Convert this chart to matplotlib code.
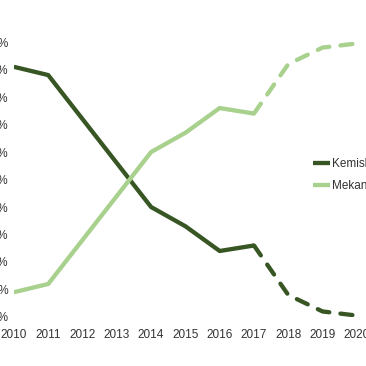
import matplotlib.pyplot as plt

years = [2010, 2011, 2012, 2013, 2014, 2015, 2016, 2017, 2018, 2019, 2020]
kemisk = [91, 88, 72, 56, 40, 33, 24, 26, 8, 2, 0.5]
mekanisk = [9, 12, 28, 44, 60, 67, 76, 74, 92, 98, 99.5]
split = 7  # 2017: last measured year, then forecast (dashed)

dark = '#375623'
light = '#a9d18e'

plt.rcParams['font.family'] = ['Liberation Sans', 'DejaVu Sans']

fig = plt.figure(figsize=(3.66, 3.66), dpi=100)
ax = fig.add_axes([0.038, 0.134, 0.937, 0.751])

lw = 3.1
ax.plot(years[:split + 1], kemisk[:split + 1], color=dark, lw=lw,
        solid_capstyle='butt', label='Kemisk bekämpning')
ax.plot(years[:split + 1], mekanisk[:split + 1], color=light, lw=lw,
        solid_capstyle='butt', label='Mekanisk bekämpning')
ax.plot(years[split:], kemisk[split:], color=dark, lw=lw,
        dashes=(2.8, 2.6), dash_capstyle='round')
ax.plot(years[split:], mekanisk[split:], color=light, lw=lw,
        dashes=(2.8, 2.6), dash_capstyle='round')

ax.set_xlim(2010, 2020)
ax.set_ylim(0, 100)
ax.set_xticks(years)
ax.set_xticklabels([str(y) for y in years])
ax.set_yticks(range(0, 101, 10))
ax.set_yticklabels([f'{v}%' for v in range(0, 101, 10)])
ax.tick_params(length=0, labelsize=8.5, colors='#333333')
ax.tick_params(axis='x', pad=9)
ax.tick_params(axis='y', pad=4)
for s in ax.spines.values():
    s.set_visible(False)

fig.legend(loc='center left', bbox_to_anchor=(0.84, 0.522), frameon=False,
           fontsize=8.5, handlelength=1.4, handletextpad=0.2,
           labelspacing=0.85, borderpad=0, labelcolor='#333333')

fig.savefig('out.png', dpi=100)
